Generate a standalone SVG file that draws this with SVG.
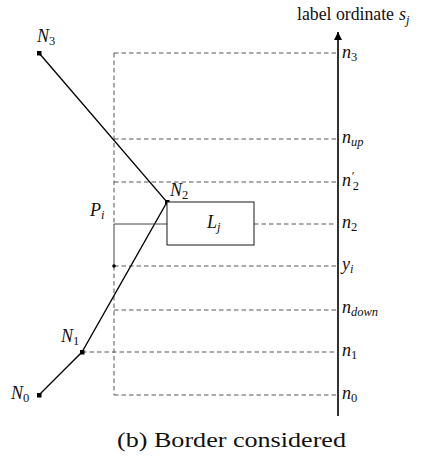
<svg xmlns="http://www.w3.org/2000/svg" width="448" height="464" viewBox="0 0 448 464">
<defs>
<style>
.dash{stroke:#444;stroke-width:0.9;stroke-dasharray:4.5,3;fill:none}
.solid{stroke:#000;stroke-width:1.3;fill:none}
.thin{stroke:#444;stroke-width:1;fill:none}
text{font-family:"Liberation Serif","DejaVu Serif",serif;fill:#111}
.m{font-style:italic;font-size:18px}
.sub{font-size:12.5px;font-style:normal}
.isub{font-size:12.5px;font-style:italic}
.title{font-size:18px}
.cap{font-size:20px}
</style>
<marker id="ah" markerWidth="8" markerHeight="10" refX="8" refY="5" orient="auto" markerUnits="userSpaceOnUse">
<path d="M0,1 L8,5 L0,9 Z" fill="#000"/>
</marker>
</defs>
<g id="guides">
<line class="dash" x1="114" y1="53" x2="114" y2="224"/>
<line class="dash" x1="114" y1="266" x2="114" y2="395"/>
<line class="dash" x1="114" y1="53" x2="336" y2="53"/>
<line class="dash" x1="114" y1="139" x2="336" y2="139"/>
<line class="dash" x1="114" y1="182" x2="336" y2="182"/>
<line class="dash" x1="254" y1="224" x2="336" y2="224"/>
<line class="dash" x1="114" y1="266" x2="336" y2="266"/>
<line class="dash" x1="114" y1="310" x2="336" y2="310"/>
<line class="dash" x1="82" y1="352" x2="336" y2="352"/>
<line class="dash" x1="114" y1="395" x2="336" y2="395"/>
</g>
<g id="axis">
<line x1="338" y1="416" x2="338" y2="32" stroke="#000" stroke-width="1.6" marker-end="url(#ah)"/>
<text class="title" x="297" y="20"><tspan textLength="97" lengthAdjust="spacingAndGlyphs">label ordinate</tspan><tspan class="m" dx="5">s</tspan><tspan class="isub" dy="4">j</tspan></text>
</g>
<g id="connectors">
<polyline class="solid" points="39,53 167,202 82,352 39,395"/>
<polyline class="thin" points="167,224 114,224 114,266"/>
</g>
<g id="N3"><rect x="37" y="51" width="4.5" height="4.5" fill="#000"/><text class="m" x="37" y="42">N<tspan class="sub" dy="3">3</tspan></text></g>
<g id="N2"><rect x="165" y="200" width="4.5" height="4.5" fill="#000"/><text class="m" x="170" y="196">N<tspan class="sub" dy="3">2</tspan></text></g>
<g id="N1"><rect x="80" y="350" width="4.5" height="4.5" fill="#000"/><text class="m" x="61" y="342">N<tspan class="sub" dy="3">1</tspan></text></g>
<g id="N0"><rect x="37" y="393" width="4.5" height="4.5" fill="#000"/><text class="m" x="11" y="399">N<tspan class="sub" dy="3">0</tspan></text></g>
<g id="Lj"><rect x="167" y="202" width="87" height="43" fill="#fff" stroke="#000" stroke-width="0.9"/><text class="m" x="207" y="228">L<tspan class="isub" dy="3">j</tspan></text></g>
<g id="Pi"><circle cx="114" cy="266" r="1.8" fill="#000"/><text class="m" x="90" y="216">P<tspan class="isub" dy="3">i</tspan></text></g>
<g id="labels">
<text class="m" x="342" y="58">n<tspan class="sub" dy="3">3</tspan></text>
<text class="m" x="342" y="143">n<tspan class="isub" dy="3">up</tspan></text>
<text class="m" x="342" y="186">n<tspan class="isub" dy="-6">′</tspan><tspan class="sub" dx="-1" dy="10">2</tspan></text>
<text class="m" x="342" y="228">n<tspan class="sub" dy="3">2</tspan></text>
<text class="m" x="342" y="270">y<tspan class="isub" dy="3">i</tspan></text>
<text class="m" x="342" y="313">n<tspan class="isub" dy="3">down</tspan></text>
<text class="m" x="342" y="356">n<tspan class="sub" dy="3">1</tspan></text>
<text class="m" x="342" y="399">n<tspan class="sub" dy="3">0</tspan></text>
</g>
<text class="cap" x="117" y="447" textLength="229" lengthAdjust="spacingAndGlyphs">(b)  Border considered</text>
</svg>
